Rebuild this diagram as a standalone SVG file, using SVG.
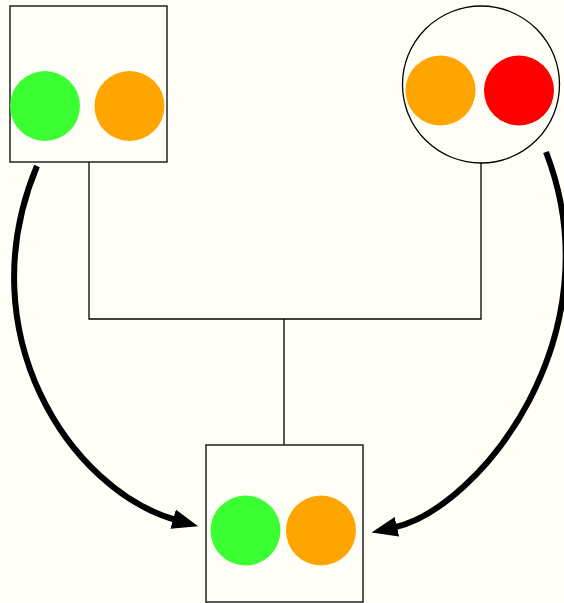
<svg xmlns="http://www.w3.org/2000/svg" width="564" height="603" viewBox="0 0 564 603">
<style>
.box{fill:none;stroke:#222;stroke-width:1.5}
.ring{fill:none;stroke:#000;stroke-width:1.3}
.g{fill:#3cff33}
.o{fill:#ffa500}
.r{fill:#ff0000}
.wire{fill:none;stroke:#000;stroke-width:1.3}
.arc{fill:none;stroke:#000;stroke-width:6}
</style>
<defs>
<marker id="ah" markerUnits="userSpaceOnUse" markerWidth="30" markerHeight="24" viewBox="0 0 30 24" refX="3" refY="10" orient="auto">
<path d="M0,0 L26,10 L0,20 z" fill="#000"/>
</marker>
</defs>
<rect width="564" height="603" fill="#fffff7"/>
<g id="connectors">
<path class="wire" d="M89,162 V319 H481 V163"/>
<path class="wire" d="M284,319 V445"/>
<path class="arc" d="M37,166 C-33,333 70,490 176,520" marker-end="url(#ah)"/>
<path class="arc" d="M546,152 C617,335 480,508 394,527.5" marker-end="url(#ah)"/>
</g>
<g id="node-top-left">
<rect class="box" x="10" y="6" width="157" height="156"/>
<circle class="g" cx="45" cy="106" r="35"/>
<circle class="o" cx="129.5" cy="106" r="35"/>
</g>
<g id="node-top-right">
<circle class="ring" cx="481" cy="84.5" r="78.5"/>
<circle class="o" cx="440.5" cy="90.5" r="35"/>
<circle class="r" cx="519" cy="90.5" r="35"/>
</g>
<g id="node-bottom">
<rect class="box" x="206" y="445" width="157" height="157"/>
<circle class="g" cx="245.5" cy="530.5" r="35"/>
<circle class="o" cx="321" cy="530.5" r="35"/>
</g>
</svg>
